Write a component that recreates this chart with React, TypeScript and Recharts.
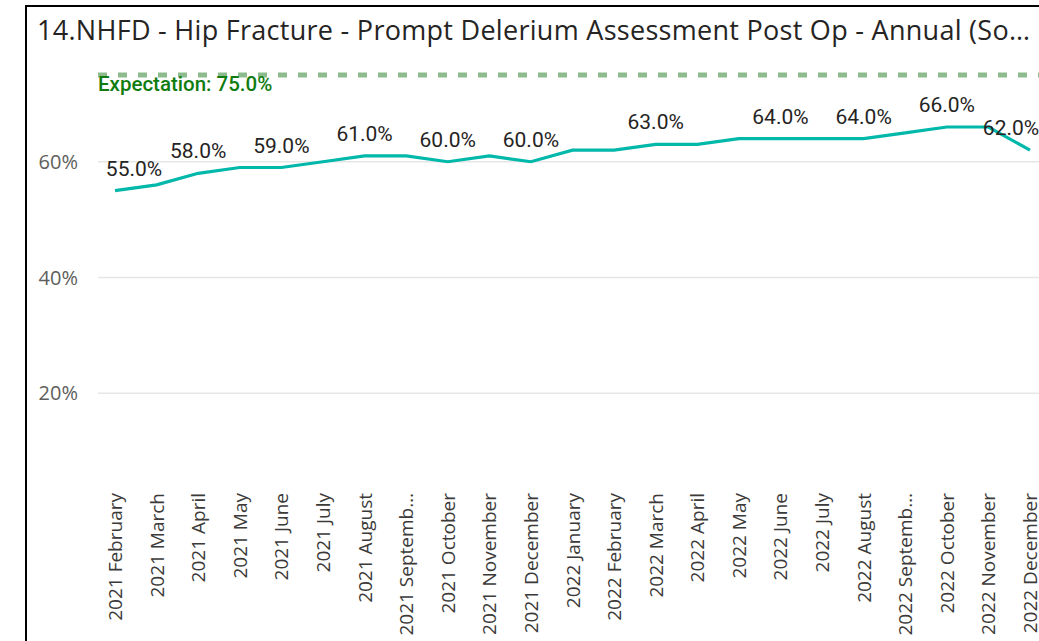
import React from "react";
import {
  LineChart,
  Line,
  XAxis,
  YAxis,
  ReferenceLine,
  LabelList,
} from "recharts";

const TITLE = "14.NHFD - Hip Fracture - Prompt Delerium Assessment Post Op - Annual (So…";

const months = [
  "2021 February",
  "2021 March",
  "2021 April",
  "2021 May",
  "2021 June",
  "2021 July",
  "2021 August",
  "2021 September",
  "2021 October",
  "2021 November",
  "2021 December",
  "2022 January",
  "2022 February",
  "2022 March",
  "2022 April",
  "2022 May",
  "2022 June",
  "2022 July",
  "2022 August",
  "2022 September",
  "2022 October",
  "2022 November",
  "2022 December",
];

const values = [55, 56, 58, 59, 59, 60, 61, 61, 60, 61, 60, 62, 62, 63, 63, 64, 64, 64, 64, 65, 66, 66, 62];

const labelledIdx = [0, 2, 4, 6, 8, 10, 13, 16, 18, 20, 22];

const expectation = 75;
const yTicks = [20, 40, 60];

const data = months.map((m, i) => ({ month: m, value: values[i] }));

const AXIS_FONT = "'Open Sans', 'Noto Sans', sans-serif";
const LABEL_FONT = "Roboto, 'DejaVu Sans', sans-serif";

const truncate = (s: string) => (s.length > 13 ? s.slice(0, 12) + "…" : s);

const XTick = (props: any) => {
  const { x, y, payload } = props;
  return (
    <text
      x={x}
      y={y}
      transform={`rotate(-90, ${x}, ${y})`}
      textAnchor="end"
      dominantBaseline="central"
      fontFamily={AXIS_FONT}
      fontSize={19}
      fill="#3b3a39"
    >
      {truncate(payload.value)}
    </text>
  );
};

const DataLabel = (props: any) => {
  const { x, y, index, value } = props;
  if (!labelledIdx.includes(index)) return null;
  let dx = 0;
  if (index === 0) dx = 19;
  if (index === values.length - 1) dx = -19;
  return (
    <text
      x={x + dx}
      y={y - 15}
      textAnchor="middle"
      fontFamily={LABEL_FONT}
      fontSize={21}
      fill="#252423"
    >
      {`${Number(value).toFixed(1)}%`}
    </text>
  );
};

const ExpLabel = (props: any) => {
  const vb = props.viewBox || {};
  return (
    <text
      x={vb.x}
      y={vb.y + 16}
      fontFamily={LABEL_FONT}
      fontSize={20.5}
      fontWeight={500}
      fill="#107C10"
    >
      {`Expectation: ${expectation.toFixed(1)}%`}
    </text>
  );
};

export default function App() {
  return (
    <div
      style={{
        position: "absolute",
        left: 0,
        top: 0,
        width: 1039,
        height: 641,
        overflow: "hidden",
        background: "#ffffff",
      }}
    >
      <div
        style={{
          position: "absolute",
          left: 25,
          top: 5,
          width: 1100,
          height: 700,
          borderLeft: "2px solid #000",
          borderTop: "2px solid #000",
        }}
      />
      <svg
        width={1039}
        height={60}
        style={{ position: "absolute", left: 0, top: 0 }}
      >
        <text
          x={37}
          y={40}
          fontFamily={AXIS_FONT}
          fontSize={27}
          fill="#252423"
          textLength={993}
          lengthAdjust="spacing"
        >
          {TITLE}
        </text>
      </svg>
      <div style={{ position: "absolute", left: 0, top: 0 }}>
        <LineChart
          width={1047}
          height={641}
          data={data}
          margin={{ top: 46, right: 0, bottom: 0, left: 0 }}
        >
          <XAxis
            dataKey="month"
            interval={0}
            height={161}
            tickLine={false}
            axisLine={false}
            tickSize={0}
            tickMargin={13}
            padding={{ left: 17, right: 17 }}
            tick={<XTick />}
          />
          <YAxis
            domain={[5, 80]}
            ticks={yTicks}
            width={98}
            tickLine={false}
            axisLine={false}
            tickSize={0}
            tickMargin={20}
            allowDataOverflow
            tickFormatter={(v: number) => `${v}%`}
            tick={{ fontFamily: AXIS_FONT, fontSize: 20, fill: "#605E5C" }}
          />
          {yTicks.map((t) => (
            <ReferenceLine key={t} y={t} stroke="#e6e6e6" strokeWidth={1.5} />
          ))}
          <ReferenceLine
            y={expectation}
            stroke="#8dbb8d"
            strokeWidth={5}
            strokeDasharray="9 11"
            label={<ExpLabel />}
          />
          <Line
            type="linear"
            dataKey="value"
            stroke="#01B8AA"
            strokeWidth={3.2}
            dot={false}
            activeDot={false}
            isAnimationActive={false}
          >
            <LabelList dataKey="value" content={<DataLabel />} />
          </Line>
        </LineChart>
      </div>
    </div>
  );
}
